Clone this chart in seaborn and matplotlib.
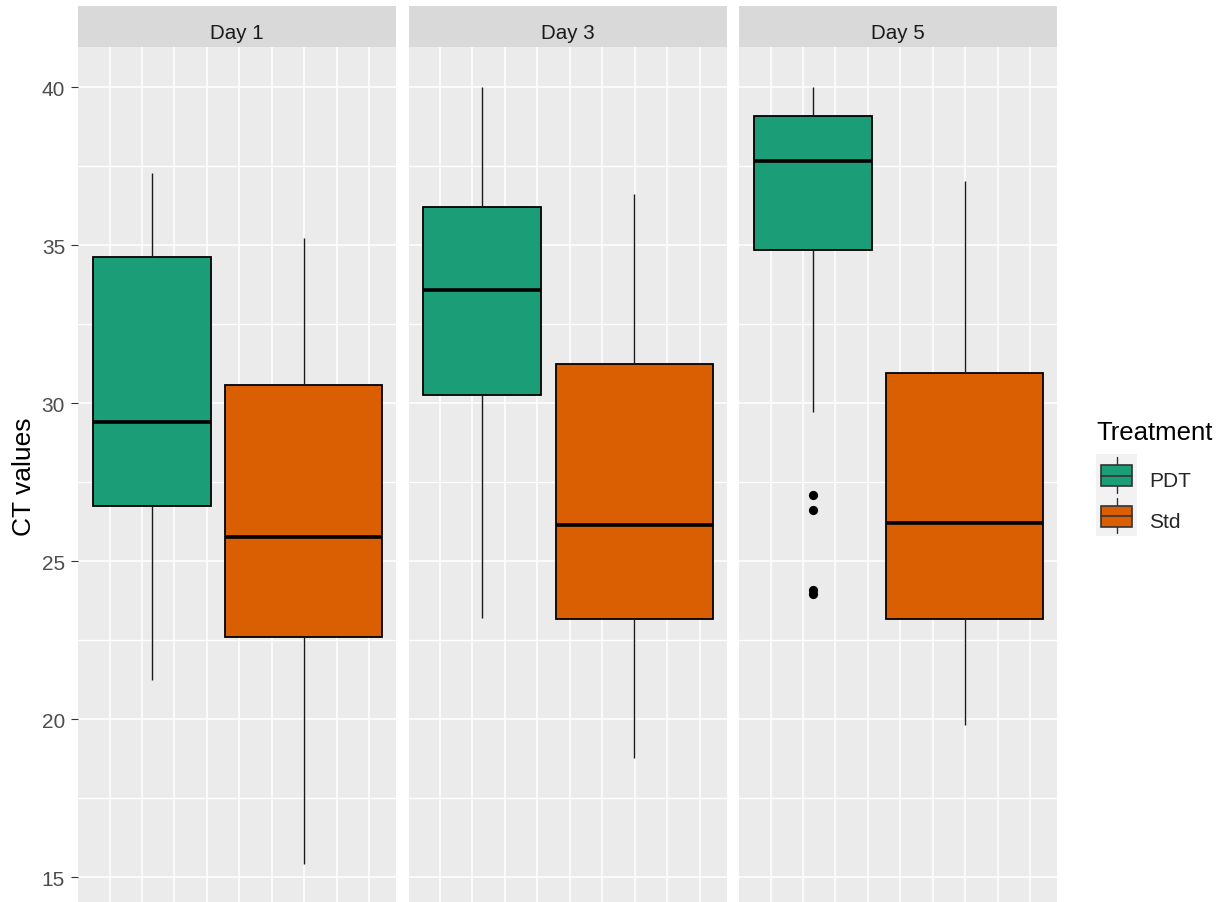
import numpy as np
import pandas as pd
import matplotlib
matplotlib.use("Agg")
import matplotlib.pyplot as plt
from matplotlib.patches import Rectangle
from matplotlib.lines import Line2D
from matplotlib.legend_handler import HandlerBase
from matplotlib.ticker import MultipleLocator, FixedLocator
import seaborn as sns

# ---------------- data ----------------
days = ["Day 1", "Day 3", "Day 5"]
treatments = ["PDT", "Std"]

# five-number summaries per day (lower whisker, Q1, median, Q3, upper whisker)
pdt_lower = [21.24, 23.22, 29.72]
pdt_q1 = [26.75, 30.27, 34.86]
pdt_median = [29.42, 33.60, 37.66]
pdt_q3 = [34.63, 36.22, 39.10]
pdt_upper = [37.30, 40.00, 40.00]

std_lower = [15.42, 18.77, 19.83]
std_q1 = [22.61, 23.17, 23.18]
std_median = [25.77, 26.15, 26.20]
std_q3 = [30.58, 31.24, 30.96]
std_upper = [35.22, 36.62, 37.03]

outlier_day = ["Day 5", "Day 5", "Day 5", "Day 5"]
outlier_treatment = ["PDT", "PDT", "PDT", "PDT"]
outlier_values = [27.10, 26.62, 24.09, 23.97]

y_ticks = [15, 20, 25, 30, 35, 40]
y_title = "CT values"
legend_title = "Treatment"

colors = {"PDT": "#1B9E77", "Std": "#D95F02"}

# ---------------- build tables ----------------
summaries = {
    "PDT": [pdt_lower, pdt_q1, pdt_median, pdt_q3, pdt_upper],
    "Std": [std_lower, std_q1, std_median, std_q3, std_upper],
}
rows = []
for trt in treatments:
    for i, day in enumerate(days):
        for stat in summaries[trt]:
            rows.append({"Day": day, "Treatment": trt, "CT": stat[i]})
df = pd.DataFrame(rows)
out = pd.DataFrame({"Day": outlier_day, "Treatment": outlier_treatment,
                    "CT": outlier_values})

# layout (box positions / widths on the panel's x scale)
box_pos = {"PDT": 2.30, "Std": 6.98}
box_width = {"PDT": 3.62, "Std": 4.83}
df["pos"] = df["Treatment"].map(box_pos)
out["pos"] = out["Treatment"].map(box_pos)

# ---------------- style ----------------
sns.set_theme(style="darkgrid")
plt.rcParams["font.family"] = ["Liberation Sans", "DejaVu Sans"]
plt.rcParams["axes.facecolor"] = "#EBEBEB"
plt.rcParams["figure.facecolor"] = "white"

W, H = 1224, 903
fig = plt.figure(figsize=(W / 100, H / 100), dpi=100)

panel_left_px = [78, 408.5, 739]
panel_w_px = 318
panel_top_px = 48.3
strip_h_px = 41
ax_h = (H - panel_top_px) / H

axes = []
for i, day in enumerate(days):
    ax = fig.add_axes([panel_left_px[i] / W, 0, panel_w_px / W, ax_h])
    axes.append(ax)
    ax.set_facecolor("#EBEBEB")
    ax.set_axisbelow(True)
    for trt in treatments:
        sub = df[(df["Day"] == day) & (df["Treatment"] == trt)]
        sns.boxplot(data=sub, x="pos", y="CT", native_scale=True, orient="x",
                    width=box_width[trt], color=colors[trt], saturation=1,
                    linecolor="black", linewidth=1.3, showcaps=False,
                    fliersize=0,
                    medianprops={"linewidth": 2.6, "color": "black"},
                    whiskerprops={"linewidth": 1.0, "color": "#1A1A1A"},
                    ax=ax)
    osub = out[out["Day"] == day]
    if len(osub):
        sns.scatterplot(data=osub, x="pos", y="CT", color="black", s=44,
                        linewidth=0, legend=False, ax=ax, zorder=5)

    ax.set_xlim(0.03, 9.82)
    ax.set_ylim(14.22, 41.27)
    ax.xaxis.set_major_locator(FixedLocator(list(range(1, 10))))
    ax.yaxis.set_major_locator(FixedLocator(y_ticks))
    ax.yaxis.set_minor_locator(MultipleLocator(2.5))
    ax.grid(True, which="major", axis="both", color="white", linewidth=1.1)
    ax.grid(True, which="minor", axis="y", color="white", linewidth=1.0)
    ax.tick_params(axis="x", which="both", length=0, labelbottom=False,
                   bottom=False)
    ax.tick_params(axis="y", which="minor", length=0, left=False)
    for sp in ax.spines.values():
        sp.set_visible(False)
    ax.set_xlabel("")
    ax.set_ylabel("")
    if i == 0:
        ax.tick_params(axis="y", which="major", left=True, length=4.75,
                       width=0.8, color="#333333", labelsize=15,
                       labelcolor="#4D4D4D", pad=4.6)
    else:
        ax.tick_params(axis="y", which="major", left=False, length=0,
                       labelleft=False)

    # facet strip
    ax_h_px = H - panel_top_px
    ax.add_patch(Rectangle((0, 1), 1, strip_h_px / ax_h_px,
                           transform=ax.transAxes, clip_on=False,
                           facecolor="#D9D9D9", edgecolor="none"))
    ax.text(0.5, 1 + 9 / ax_h_px, day, transform=ax.transAxes, ha="center",
            va="baseline", fontsize=14.8, color="#1A1A1A")

# y title
fig.text(24 / W, 1 - 476.7 / H, y_title, rotation=90, ha="center",
         va="center", fontsize=19, color="black")


# ---------------- legend ----------------
class BoxKeyHandler(HandlerBase):
    def create_artists(self, legend, orig_handle, xdescent, ydescent, width,
                       height, fontsize, trans):
        extra = legend.labelspacing * fontsize
        x0, y0 = -xdescent, -ydescent
        kh = height + extra
        bg = Rectangle((x0, y0), width, kh, facecolor="#F2F2F2",
                       edgecolor="none", transform=trans)
        cx = x0 + 0.51 * width
        wl = Line2D([cx, cx], [y0 + 0.06 * kh, y0 + 0.92 * kh],
                    color="#333333", lw=1.0, transform=trans)
        box = Rectangle((x0 + 0.13 * width, y0 + 0.22 * kh), 0.76 * width,
                        0.51 * kh, facecolor=orig_handle.get_facecolor(),
                        edgecolor="#333333", lw=1.2, transform=trans)
        med = Line2D([x0 + 0.13 * width, x0 + 0.89 * width],
                     [y0 + 0.475 * kh] * 2, color="#333333", lw=1.2,
                     transform=trans)
        return [bg, wl, box, med]


handles = [Rectangle((0, 0), 1, 1, facecolor=colors[t]) for t in treatments]
fs = 15
labelspacing = 0.487
extra_px = labelspacing * fs * 100 / 72
fig.legend(handles, treatments, loc="upper left",
           bbox_to_anchor=(1095.7 / W, 1 - (455 + extra_px) / H),
           bbox_transform=fig.transFigure, frameon=False, borderpad=0,
           borderaxespad=0, fontsize=fs, handlelength=1.97, handleheight=1.9,
           handletextpad=0.6, labelspacing=labelspacing,
           handler_map={Rectangle: BoxKeyHandler()})
fig.text(1096 / W, 1 - 440 / H, legend_title, ha="left", va="baseline",
         fontsize=18.5, color="black")

fig.savefig("out.png", dpi=100)
